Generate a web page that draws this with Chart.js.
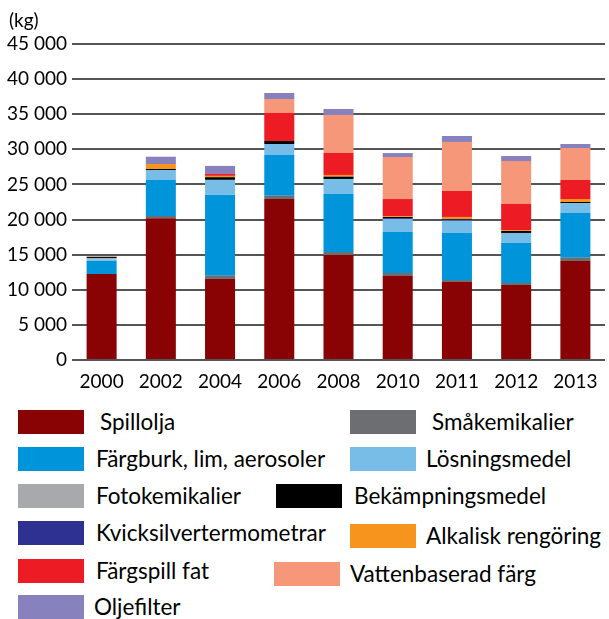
<!DOCTYPE html>
<html>
<head>
<meta charset="utf-8">
<script src="https://cdn.jsdelivr.net/npm/chart.js@4/dist/chart.umd.min.js"></script>
<style>
html,body{margin:0;padding:0;background:#fff;}
body{width:609px;height:619px;position:relative;overflow:hidden;font-family:Lato,"Open Sans",sans-serif;color:#000;}
#wrap{position:absolute;left:0;top:0;width:609px;height:400px;}
.unit{position:absolute;left:9px;top:9px;font-size:19px;line-height:22px;}
.bx{position:absolute;width:66px;height:24px;}
.lt{position:absolute;font-size:22.5px;line-height:24px;white-space:nowrap;}
</style>
</head>
<body>
<div id="wrap"><canvas id="c" width="609" height="400"></canvas></div>
<div class="unit">(kg)</div>
<div id="legend"></div>
<script>
// ---- data ----
const years = ['2000','2002','2004','2006','2008','2010','2011','2012','2013'];
const yTickLabels = ['0','5 000','10 000','15 000','20 000','25 000','30 000','35 000','40 000','45 000'];

const spillolja      = [12250, 20180, 11540, 22930, 14950, 11960, 11110, 10680, 14100];
const smakemikalier  = [0, 330, 470, 470, 430, 430, 280, 290, 470];
const fargburk       = [1850, 5120, 11500, 5790, 8260, 5840, 6700, 5690, 6360];
const losningsmedel  = [240, 1430, 2140, 1570, 2140, 1850, 1750, 1430, 1390];
const fotokemikalier = [190, 0, 0, 0, 0, 0, 0, 0, 0];
const kvicksilver    = [0, 0, 0, 0, 0, 130, 150, 0, 0];
const bekampning     = [180, 140, 380, 430, 330, 150, 90, 280, 180];
const alkalisk       = [0, 710, 190, 0, 240, 140, 290, 140, 430];
const fargspill      = [0, 0, 280, 3990, 3130, 2420, 3700, 3710, 2700];
const vattenbaserad  = [0, 0, 0, 1990, 5410, 5980, 6980, 6120, 4560];
const oljefilter     = [0, 1040, 1140, 850, 860, 570, 850, 710, 570];

const seriesNames = ['Spillolja','Småkemikalier','Färgburk, lim, aerosoler','Lösningsmedel','Fotokemikalier',
  'Kvicksilvertermometrar','Bekämpningsmedel','Alkalisk rengöring','Färgspill fat','Vattenbaserad färg','Oljefilter'];
const seriesValues = [spillolja, smakemikalier, fargburk, losningsmedel, fotokemikalier,
  kvicksilver, bekampning, alkalisk, fargspill, vattenbaserad, oljefilter];
const seriesColors = ['#8a0304','#6d6e71','#0095da','#77bde8','#a7a9ac',
  '#2e3192','#000000','#f7941d','#ed1c24','#f7977a','#8781bd'];

// legend layout (positions only): [seriesIndex, boxX, boxY, textX]
const legendLayout = [
  [0, 18, 410, 100], [1, 350, 410, 432],
  [2, 18, 447, 96],  [3, 350, 447, 426],
  [4, 18, 484, 96],  [6, 276, 484, 354],
  [5, 18, 521, 96],  [7, 350, 524, 426],
  [8, 18, 559, 96],  [9, 274, 562, 350],
  [10, 18, 595, 94]
];

const font = {family: 'Lato, "Open Sans", sans-serif', size: 19};

new Chart(document.getElementById('c'), {
  type: 'bar',
  data: {
    labels: years,
    datasets: seriesNames.map((n, i) => ({
      label: n,
      data: seriesValues[i],
      backgroundColor: seriesColors[i],
      borderWidth: 0,
      barPercentage: 1,
      categoryPercentage: 0.507
    }))
  },
  options: {
    responsive: false,
    animation: false,
    layout: {padding: {top: 44, right: 4, left: 0, bottom: 0}},
    plugins: {legend: {display: false}, tooltip: {enabled: false}},
    scales: {
      x: {
        stacked: true,
        grid: {display: false, drawTicks: false},
        border: {display: false},
        ticks: {font: font, color: '#000', padding: 10, maxRotation: 0},
        afterFit(s) { s.height = 40; }
      },
      y: {
        stacked: true,
        min: 0, max: 45000,
        ticks: {stepSize: 5000, font: font, color: '#000', padding: 5,
          callback: (v, i) => yTickLabels[i]},
        grid: {color: '#555', lineWidth: 2, drawTicks: false},
        border: {display: false},
        afterFit(s) { s.width = 72; }
      }
    }
  }
});

const lg = document.getElementById('legend');
legendLayout.forEach(([si, bx, by, tx]) => {
  const b = document.createElement('div');
  b.className = 'bx';
  b.style.left = bx + 'px'; b.style.top = by + 'px';
  b.style.background = seriesColors[si];
  lg.appendChild(b);
  const t = document.createElement('div');
  t.className = 'lt';
  t.style.left = tx + 'px'; t.style.top = by + 'px';
  t.textContent = seriesNames[si];
  lg.appendChild(t);
});
</script>
</body>
</html>
